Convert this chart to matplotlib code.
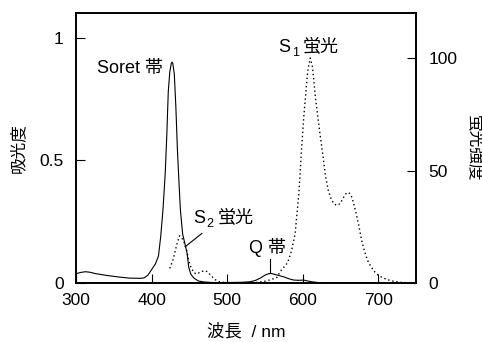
#! /usr/bin/env python3
import matplotlib
matplotlib.use("Agg")
import matplotlib.pyplot as plt

plt.rcParams['font.family'] = ['Liberation Sans', 'Noto Sans CJK JP', 'DejaVu Sans']

# absorption spectrum (solid, left axis)
abs_nm = [300, 306, 312, 318, 326, 340, 355, 370, 385, 390, 395, 400, 405, 409,
          412, 415, 418, 420, 422, 424, 426, 427, 428, 430, 432, 434, 436, 438,
          441, 444, 447, 449, 452, 456, 462, 470, 480, 500, 520, 530, 537, 544,
          550, 555, 558, 562, 568, 575, 582, 588, 595, 601, 607, 612, 620, 628]
abs_val = [0.038, 0.043, 0.046, 0.044, 0.038, 0.031, 0.025, 0.020, 0.019, 0.021,
           0.032, 0.055, 0.078, 0.110, 0.19, 0.30, 0.45, 0.60, 0.78, 0.86, 0.895,
           0.90, 0.895, 0.85, 0.72, 0.55, 0.42, 0.30, 0.20, 0.16, 0.12, 0.065,
           0.035, 0.020, 0.008, 0.004, 0.002, 0.002, 0.003, 0.005, 0.010, 0.020,
           0.032, 0.038, 0.039, 0.036, 0.031, 0.025, 0.017, 0.012, 0.011, 0.012,
           0.008, 0.005, 0.002, 0.0]

# fluorescence spectrum (dotted, right axis)
fl_nm = [424, 428, 431, 434, 437, 440, 443, 446, 449, 452, 456, 460, 465, 470,
         474, 478, 484, 490, 500, 520, 540, 550, 558, 566, 570, 575, 580, 585,
         590, 595, 598, 601, 605, 607, 610, 613, 617, 620, 623, 627, 630, 634,
         638, 642, 646, 650, 654, 658, 661, 664, 667, 670, 674, 678, 682, 686,
         690, 694, 698, 705, 712, 720, 730, 740, 750]
fl_val = [6.5, 10, 14, 18, 21, 20, 18, 15, 10, 7, 4.5, 4, 5, 5.5, 5, 3.5, 1.5,
          0.5, 0.1, 0, 0.3, 0.8, 1.5, 2.5, 5, 7, 9, 14, 22, 40, 57, 72, 88, 95,
          100, 96, 82, 74, 66, 56, 48, 41, 37, 35, 34.5, 35.5, 38, 40, 40.2, 39,
          36, 32, 26, 19, 14, 10, 7.5, 5.5, 4, 2.5, 1.5, 0.8, 0.3, 0.1, 0]

fig = plt.figure(figsize=(4.82, 3.42), dpi=100)
fig.subplots_adjust(left=0.158, right=0.863, bottom=0.1725, top=0.962)
ax = fig.add_subplot(111)
ax2 = ax.twinx()

ax.plot(abs_nm, abs_val, color="black", lw=0.8)
ax2.plot(fl_nm, fl_val, color="black", lw=1.0, linestyle=(0, (1, 2)))

ax.set_xlim(300, 750)
ax.set_ylim(0, 1.1)
ax2.set_ylim(0, 120)

ax.set_xticks([300, 400, 500, 600, 700])
ax.set_yticks([0, 0.5, 1])
ax.set_yticklabels(["0", "0.5", "1"])
ax2.set_yticks([0, 50, 100])

for a in (ax, ax2):
    for s in a.spines.values():
        s.set_linewidth(1.2)
ax.tick_params(axis="both", direction="in", length=6.5, width=0.8, labelsize=12.5, pad=9)
ax.tick_params(axis="x", pad=7)
ax2.tick_params(axis="y", direction="in", length=6.5, width=0.8, labelsize=12.5, pad=9)

ax.set_xlabel("波長  / nm", fontsize=12.5, labelpad=11)
ax.set_ylabel("吸光度", fontsize=12, labelpad=10)
ax2.set_ylabel("蛍光強度", fontsize=12, rotation=270, labelpad=18)


def sub_label(x, y, sub, x_rest, rest):
    # "S" + lowered small digit, then the Japanese part
    ax.text(x, y, "S", fontsize=13, ha="left", va="center")
    ax.annotate(sub, (x, y), xytext=(9.5, -4), textcoords="offset points",
                fontsize=9, ha="left", va="center")
    ax.text(x_rest, y, rest, fontsize=13, ha="left", va="center")


# band labels
ax.text(371.5, 0.874, "Soret 帯", fontsize=13, ha="center", va="center")
sub_label(568, 0.96, "1", 600, "蛍光")
sub_label(455.4, 0.264, "2", 487, "蛍光")
ax.text(554, 0.146, "Q 帯", fontsize=13, ha="center", va="center")

# pointer lines
ax.plot([444.5, 466.5], [0.148, 0.202], color="black", lw=0.8)
ax.plot([556.3, 556.3], [0.040, 0.097], color="black", lw=0.8)

plt.savefig("out.png", dpi=100)
